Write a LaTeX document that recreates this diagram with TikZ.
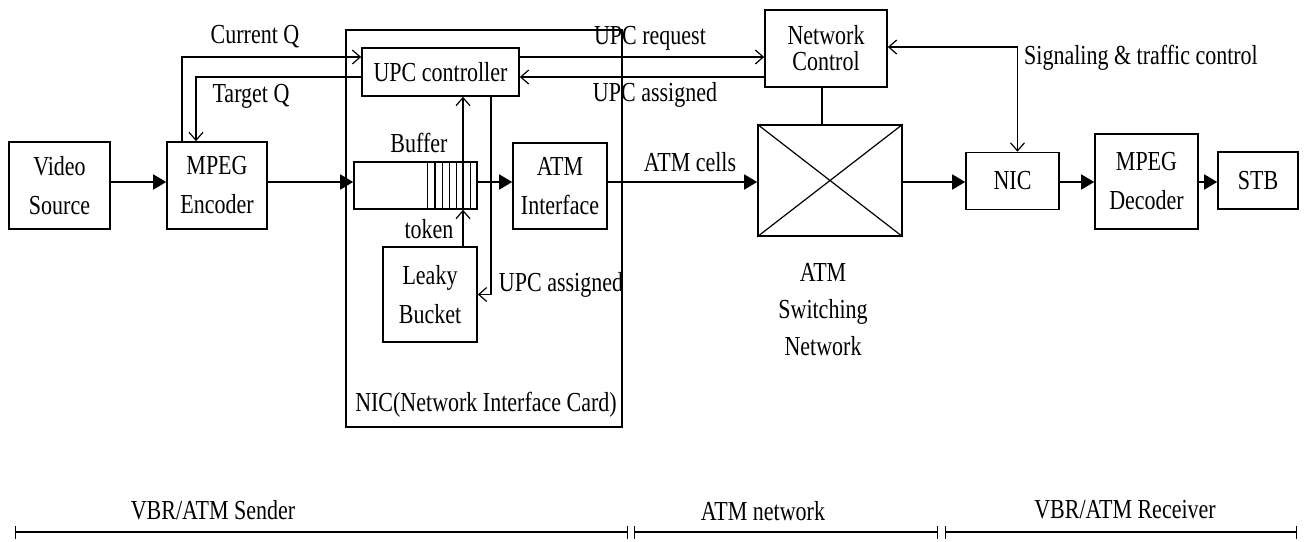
\documentclass[tikz,border=0pt]{standalone}
\usepackage{fontspec}
\setmainfont{Liberation Serif}
\usepackage{graphicx}
\usetikzlibrary{arrows.meta}
\newcommand\st[1]{\scalebox{1}[1.25]{#1}}
\begin{document}
\begin{tikzpicture}[x=1pt,y=-1pt,
  every node/.style={font=\fontsize{22}{26}\selectfont, inner sep=0pt},
  box/.style={draw, line width=1.6pt, align=center},
  twoline/.style={font=\fontsize{22}{39}\selectfont},
  plain/.style={line width=1.6pt},
  flow/.style={line width=1.6pt, -{Triangle[length=13pt,width=15pt]}},
  ctl/.style={line width=1.6pt, -{Straight Barb[length=8pt,width=14pt,line width=1.2pt]}},
  ctlboth/.style={line width=1.6pt, {Straight Barb[length=8pt,width=14pt,line width=1.2pt]}-{Straight Barb[length=8pt,width=14pt,line width=1.2pt]}},
  lbl/.style={},
  bar/.style={line width=1.8pt, {Bar[width=13pt,line width=1.2pt]}-{Bar[width=13pt,line width=1.2pt]}}
]
\useasboundingbox (0,0) rectangle (1305,541);
% NIC card frame
\node[box, minimum width=276pt, minimum height=397pt] (nicb) at (484,228.5) {};
% boxes
\node[box, twoline, minimum width=101pt, minimum height=87pt] (vs) at (59.5,185.5) {\st{Video}\\\st{Source}};
\node[box, twoline, minimum width=100pt, minimum height=87pt] (me) at (217,185.5) {\st{MPEG}\\\st{Encoder}};
\node[box, minimum width=123pt, minimum height=47pt] (buf) at (415.5,185.5) {};
\node[box, minimum width=157pt, minimum height=48pt] (upc) at (440.5,72) {\st{UPC controller}};
\node[box, twoline, minimum width=94pt, minimum height=95pt] (lb) at (430,294.5) {\st{Leaky}\\\st{Bucket}};
\node[box, twoline, minimum width=94pt, minimum height=86pt] (ai) at (560,186) {\st{ATM}\\\st{Interface}};
\node[box, minimum width=122pt, minimum height=77pt] (nc) at (826,48.5) {\st{Network}\\\st{Control}};
\node[box, minimum width=144pt, minimum height=111pt] (sw) at (830,180.5) {};
\node[box, minimum width=93pt, minimum height=57pt] (nic2) at (1012.5,181) {\st{NIC}};
\node[box, twoline, minimum width=103pt, minimum height=95pt] (md) at (1146.5,181.5) {\st{MPEG}\\\st{Decoder}};
\node[box, minimum width=80pt, minimum height=57pt] (stb) at (1258,180.5) {\st{STB}};
% buffer stripes
\foreach \i in {1,...,7}
  \draw[line width=1.2pt] ([xshift=-\i*7.14pt]buf.north east) -- ([xshift=-\i*7.14pt]buf.south east);
% switch cross
\draw[line width=1.2pt] (sw.north west) -- (sw.south east) (sw.south west) -- (sw.north east);
% main flow
\coordinate (fy) at (0,182);
\draw[flow] (vs.east|-fy) -- (me.west|-fy);
\draw[flow] (me.east|-fy) -- (buf.west|-fy);
\draw[flow] (buf.east|-fy) -- (ai.west|-fy);
\draw[flow] (ai.east|-fy) -- (sw.west|-fy);
\draw[flow] (sw.east|-fy) -- (nic2.west|-fy);
\draw[flow] (nic2.east|-fy) -- (md.west|-fy);
\draw[flow] (md.east|-fy) -- (stb.west|-fy);
% control lines
\coordinate (cq) at ([yshift=15pt]upc.west);
\coordinate (tq) at ([yshift=-5pt]upc.west);
\draw[ctl] ([xshift=-35pt]me.north) |- (cq);
\draw[ctl] (tq) -| ([xshift=-21pt]me.north);
\coordinate (ur) at ([yshift=15pt]upc.east);
\coordinate (ua2) at ([yshift=-5pt]upc.east);
\draw[ctl] (ur) -- (ur -| nc.west);
\draw[ctl] (ua2 -| nc.west) -- (ua2);
\coordinate (ncs) at ([xshift=-4pt]nc.south);
\draw[plain] (ncs) -- (ncs |- sw.north);
\draw[ctlboth] ([yshift=1.5pt]nc.east) -| ([xshift=5pt]nic2.north);
\coordinate (tk) at ([xshift=33pt]lb.north);
\draw[ctl] (tk) -- (tk |- buf.south);
\draw[ctl] (tk |- buf.south) -- (tk |- upc.south);
\coordinate (ua) at ([xshift=50.5pt]upc.south);
\draw[ctl] (ua) |- (lb.east);
% labels
\node[lbl] (lcq) at (255,37) {\st{Current Q}};
\node[lbl] (ltq) at (251,96) {\st{Target Q}};
\node[lbl] (lreq) at (650,38) {\st{UPC request}};
\node[lbl] (lass) at (655,95) {\st{UPC assigned}};
\node[lbl] (lsig) at (1141,58) {\st{Signaling \& traffic control}};
\node[lbl] (lbuf) at (419,143) {\st{Buffer}};
\node[lbl] (ltok) at (429,229) {\st{token}};
\node[lbl] (lua) at (561,285) {\st{UPC assigned}};
\node[lbl] (lnic) at (486,405) {\st{NIC(Network Interface Card)}};
\node[lbl] (lcells) at (690,162) {\st{ATM cells}};
\node[lbl, align=center, font=\fontsize{22}{37}\selectfont] (lsw) at (823,310) {\st{ATM}\\\st{Switching}\\\st{Network}};
% bottom bars
\coordinate (b0) at (15,532);
\coordinate (b1) at (628,532);
\coordinate (b2) at (634,532);
\coordinate (b3) at (938,532);
\coordinate (b4) at (945,532);
\coordinate (b5) at (1297,532);
\draw[bar] (b0) -- (b1);
\draw[bar] (b2) -- (b3);
\draw[bar] (b4) -- (b5);
\node[lbl] (lsnd) at (213,510) {\st{VBR/ATM Sender}};
\node[lbl] (lnet) at (763,511) {\st{ATM network}};
\node[lbl] (lrcv) at (1125,510) {\st{VBR/ATM Receiver}};
\end{tikzpicture}
\end{document}
